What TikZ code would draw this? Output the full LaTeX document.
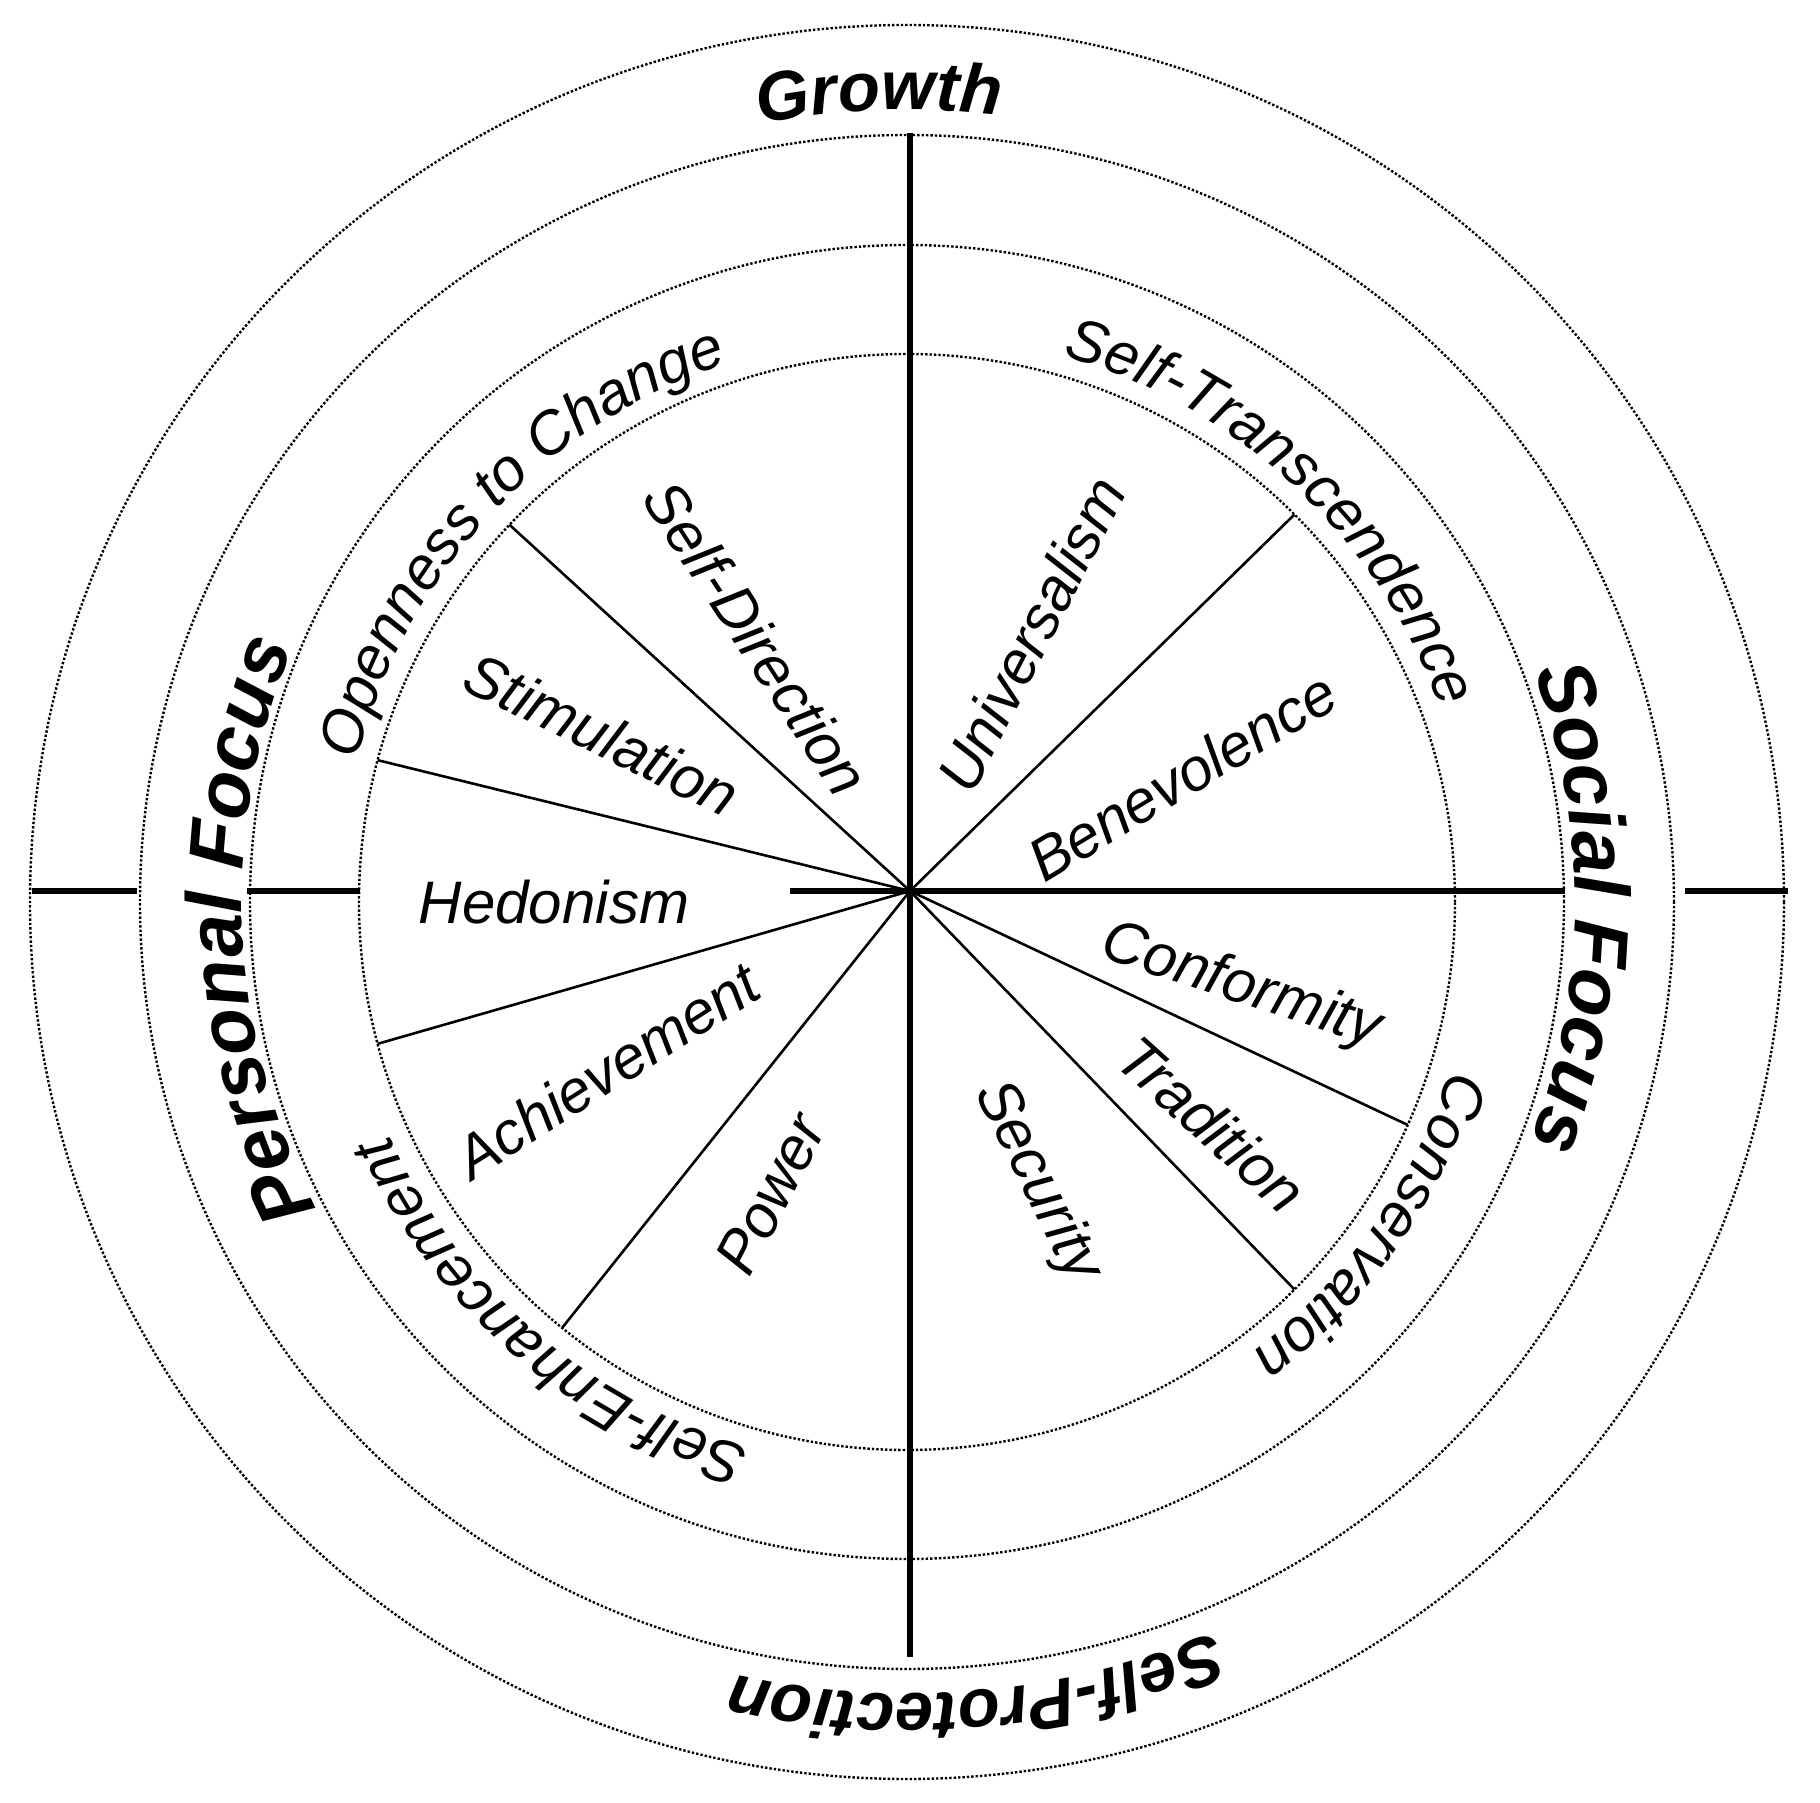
\documentclass[tikz,border=0pt]{standalone}
\usepackage{fontspec}
\setmainfont{Liberation Sans}
\usetikzlibrary{decorations.text,calc}
\newcommand\vfont{\fontsize{60}{60}\selectfont\itshape}
\newcommand\bfont{\fontsize{69}{69}\selectfont\bfseries\itshape}
\newcommand\ffont{\fontsize{78}{78}\selectfont\bfseries\itshape}
\tikzset{
  ring/.style={dotted, line width=2.4pt},
  axis/.style={line width=6pt},
  spoke/.style={line width=2.6pt},
  vlab/.style={font=\vfont, inner sep=0pt},
}
\newcommand\arctext[5]{% radius, center angle, half span, font, text
  \path[decorate, decoration={text along path, text align=center, text={|#4|#5}}]
    (o) ++({#2+#3}:#1) arc[start angle={#2+#3}, end angle={#2-#3}, radius=#1];}
\begin{document}
\begin{tikzpicture}[x=1pt,y=1pt]
\useasboundingbox (-907,-901) rectangle (913,902);
\fill[white] (-907,-901) rectangle (913,902);
\coordinate (o) at (0,0);
\coordinate (c) at (3,11);
\foreach \r in {548,657,767,877} \draw[ring] (o) circle[radius=\r];
% axes
\coordinate (vt) at (3,769); \coordinate (vb) at (3,-755);
\draw[axis] (vt) -- (vb);
\coordinate (h1) at (-875,11); \coordinate (h2) at (-770,11);
\coordinate (h3) at (-660,11); \coordinate (h4) at (-547,11);
\coordinate (h5) at (-117,11); \coordinate (h6) at (658,11);
\coordinate (h7) at (778,11); \coordinate (h8) at (881,11);
\draw[axis] (h1) -- (h2); \draw[axis] (h3) -- (h4);
\draw[axis] (h5) -- (h6); \draw[axis] (h7) -- (h8);
% spokes
\foreach \a in {45,136.5,165,195,231,315,336}
  \draw[spoke] (c) -- ($(o)+(\a:548)$);
% value labels
\node[vlab, rotate=-57] (sd) at (-150,264) {Self-Direction};
\node[vlab, rotate=63] (un) at (124,268) {Universalism};
\node[vlab, rotate=-26] (st) at (-305,168) {Stimulation};
\node[vlab, rotate=31] (be) at (275,126) {Benevolence};
\node[vlab] (he) at (-353,0) {Hedonism};
\node[vlab, rotate=-18] (co) at (334,-85) {Conformity};
\node[vlab, rotate=32.4] (ac) at (-300,-168) {Achievement};
\node[vlab, rotate=-42] (tr) at (305,-222) {Tradition};
\node[vlab, rotate=62.6] (po) at (-136,-292) {Power};
\node[vlab, rotate=-63.4] (se) at (130,-280) {Security};
% curved labels
\arctext{568}{137}{70}{\vfont}{Openness to Change}
\arctext{568}{47}{70}{\vfont}{Self-Transcendence}
\arctext{568}{-35}{70}{\vfont}{Conservation}
\arctext{568}{229}{70}{\vfont}{Self-Enhancement}
\arctext{792}{92}{40}{\bfont}{Growth}
\arctext{792}{275}{40}{\bfont}{Self-Protection}
\arctext{665}{182.5}{60}{\ffont}{Personal Focus}
\arctext{668}{-0.5}{60}{\ffont}{Social Focus}
\end{tikzpicture}
\end{document}
